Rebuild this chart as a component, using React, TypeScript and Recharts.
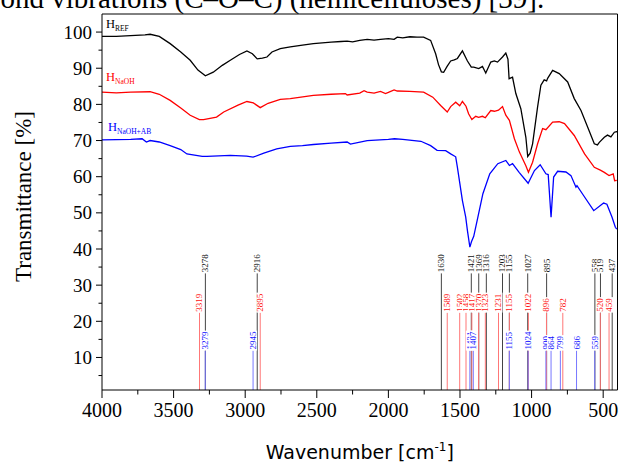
import React from 'react';
import { LineChart, Line, XAxis, YAxis, ReferenceLine, ReferenceDot } from 'recharts';

// H_REF spectrum
const refWn = [4000, 3900, 3800, 3700, 3664, 3600, 3524, 3450, 3384, 3330, 3278, 3223, 3160, 3104, 3040, 2988, 2950, 2916, 2880, 2848, 2813, 2755, 2685, 2600, 2524, 2400, 2330, 2288, 2250, 2200, 2148, 2100, 2055, 2000, 1960, 1938, 1900, 1850, 1800, 1754, 1705, 1670, 1650, 1630, 1614, 1590, 1565, 1540, 1518, 1483, 1448, 1421, 1404, 1369, 1343, 1320, 1285, 1260, 1238, 1203, 1180, 1165, 1157, 1133, 1110, 1075, 1040, 1027, 1010, 993, 958, 935, 912, 895, 888, 853, 807, 748, 702, 655, 608, 562, 540, 527, 492, 470, 446, 422, 400];
const refT = [98.8, 98.8, 99.0, 99.2, 99.4, 98.8, 96.8, 94.5, 92.2, 89.5, 87.9, 88.9, 90.8, 92.2, 93.8, 94.8, 94.0, 92.6, 92.8, 93.1, 94.5, 95.4, 95.9, 96.4, 96.8, 97.2, 97.4, 97.5, 97.3, 97.7, 98.0, 97.8, 98.0, 98.2, 98.0, 98.6, 98.4, 98.7, 98.6, 98.6, 97.7, 94.0, 91.0, 89.0, 88.9, 90.5, 92.0, 92.3, 92.7, 94.8, 92.0, 90.3, 90.3, 89.9, 90.5, 88.7, 91.7, 92.0, 91.7, 93.1, 94.2, 92.5, 87.1, 87.5, 83.0, 78.8, 70.9, 65.6, 66.5, 69.1, 79.3, 85.3, 86.8, 86.5, 87.2, 89.4, 88.5, 86.2, 81.6, 78.3, 73.7, 69.1, 68.8, 69.5, 70.9, 71.5, 71.0, 72.3, 72.5];

// H_NaOH spectrum
const naohWn = [4000, 3900, 3800, 3664, 3600, 3524, 3450, 3384, 3320, 3291, 3200, 3150, 3050, 2988, 2943, 2895, 2840, 2755, 2685, 2524, 2400, 2300, 2288, 2200, 2170, 2148, 2100, 2055, 2020, 2000, 1960, 1938, 1850, 1754, 1690, 1635, 1589, 1565, 1530, 1502, 1483, 1458, 1440, 1417, 1390, 1370, 1343, 1323, 1285, 1260, 1231, 1203, 1180, 1155, 1120, 1085, 1040, 1022, 993, 958, 923, 900, 853, 807, 770, 702, 630, 562, 520, 492, 459, 430, 420, 405];
const naohT = [83.4, 83.2, 83.4, 83.5, 82.8, 81.1, 79.0, 77.0, 75.8, 75.8, 76.5, 77.9, 79.8, 80.8, 80.4, 79.1, 80.3, 81.4, 81.6, 82.5, 82.8, 83.0, 82.6, 83.1, 83.8, 83.4, 83.1, 83.6, 83.0, 83.3, 84.0, 83.7, 83.6, 83.4, 82.0, 79.7, 77.9, 79.4, 80.6, 79.6, 80.8, 79.5, 77.4, 75.8, 76.7, 76.4, 76.7, 76.3, 78.3, 78.1, 78.4, 79.4, 77.0, 75.6, 70.5, 66.8, 63.0, 61.2, 64.0, 69.1, 73.3, 73.0, 75.1, 75.2, 74.7, 71.4, 66.3, 62.6, 61.8, 61.2, 60.3, 60.8, 58.9, 59.0];

// H_NaOH+AB spectrum
const abWn = [4000, 3800, 3720, 3690, 3664, 3600, 3524, 3450, 3407, 3300, 3267, 3104, 2990, 2945, 2870, 2780, 2685, 2600, 2524, 2400, 2288, 2265, 2148, 2000, 1957, 1900, 1773, 1705, 1660, 1600, 1565, 1530, 1518, 1483, 1460, 1448, 1431, 1420, 1404, 1375, 1340, 1292, 1236, 1180, 1155, 1133, 1087, 1024, 980, 940, 900, 884, 864, 846, 818, 760, 725, 690, 683, 637, 566, 497, 474, 438, 415, 405];
const abT = [70.2, 70.3, 70.5, 69.6, 70.0, 69.6, 68.6, 67.5, 66.3, 65.6, 65.6, 65.9, 65.7, 65.4, 66.5, 67.7, 68.4, 68.6, 68.9, 69.3, 69.6, 69.0, 70.0, 70.3, 70.5, 70.3, 69.8, 68.6, 67.3, 67.2, 66.3, 65.5, 62.6, 53.4, 48.8, 45.1, 40.5, 42.0, 43.5, 48.8, 55.3, 60.8, 63.6, 64.5, 63.1, 63.6, 61.2, 58.2, 61.7, 63.3, 60.8, 60.6, 48.8, 59.9, 61.5, 61.3, 60.3, 57.1, 57.5, 54.8, 50.6, 52.7, 52.4, 48.8, 46.0, 45.5];

const refPeaks = [3278, 2916, 1630, 1421, 1369, 1316, 1203, 1155, 1027, 895, 558, 519, 437];
const naohPeaks = [3319, 2895, 1589, 1502, 1458, 1417, 1370, 1323, 1231, 1155, 1022, 896, 782, 520, 459];
const abPeaks = [3279, 2945, 1431, 1407, 1155, 1024, 900, 864, 799, 686, 559];

const xTicks = [4000, 3750, 3500, 3250, 3000, 2750, 2500, 2250, 2000, 1750, 1500, 1250, 1000, 750, 500];
const yTicks = [5, 10, 15, 20, 25, 30, 35, 40, 45, 50, 55, 60, 65, 70, 75, 80, 85, 90, 95, 100];

const toData = (wn: number[], t: number[]) => wn.map((w, i) => ({ wn: w, t: t[i] }));
const refData = toData(refWn, refT);
const naohData = toData(naohWn, naohT);
const abData = toData(abWn, abT);

const SERIF = 'Liberation Serif, Times New Roman, serif';

const XTick = (p: any) => {
  const { x, y, payload } = p;
  const major = payload.value % 500 === 0;
  return (
    <g>
      <line x1={x} x2={x} y1={y} y2={y + (major ? 8 : 4.5)} stroke="#000" strokeWidth={1} />
      {major && (
        <text x={x} y={y + 27} textAnchor="middle" fontFamily={SERIF} fontSize={20} fill="#000">
          {payload.value}
        </text>
      )}
    </g>
  );
};

const YTick = (p: any) => {
  const { x, y, payload } = p;
  const major = payload.value % 10 === 0;
  return (
    <g>
      <line x1={x} x2={x - (major ? 6 : 3.5)} y1={y} y2={y} stroke="#000" strokeWidth={1} />
      {major && (
        <text x={x - 10} y={y} dy="0.35em" textAnchor="end" fontFamily={SERIF} fontSize={19} fill="#000">
          {payload.value}
        </text>
      )}
    </g>
  );
};

const peakLabel = (text: string, color: string) => (p: any) => {
  const vb = p.viewBox || {};
  const x = vb.x;
  const yTop = vb.y;
  if (x == null || yTop == null) return null;
  const len = text.length * 4.5 + 2;
  return (
    <g>
      <rect x={x - 4} y={yTop - len} width={8} height={len} fill="#fff" />
      <text
        transform={`translate(${x},${yTop - 1}) rotate(-90)`}
        textAnchor="start"
        dy="0.33em"
        fontFamily={SERIF}
        fontSize={9}
        fill={color}
      >
        {text}
      </text>
    </g>
  );
};

const seriesLabel = (main: string, sub: string, color: string) => (p: any) => {
  const vb = p.viewBox || {};
  return (
    <text x={vb.x} y={vb.y} fontFamily={SERIF} fill={color}>
      <tspan fontSize={12.5}>{main}</tspan>
      <tspan fontSize={7.5} dy={3}>{sub}</tspan>
    </text>
  );
};

const XTitle = (p: any) => {
  const vb = p.viewBox || { x: 102, y: 390, width: 515, height: 74 };
  return (
    <text x={vb.x + vb.width / 2} y={vb.y + 69} textAnchor="middle" fontFamily="DejaVu Sans, Verdana, sans-serif" fontSize={19} fill="#000">
      Wavenumber [cm<tspan dy={-8} fontSize={12}>-1</tspan><tspan dy={8}>]</tspan>
    </text>
  );
};

const YTitle = (p: any) => {
  const vb = p.viewBox || { x: 0, y: 14, width: 102, height: 376 };
  const cx = vb.x + 30.7;
  const cy = vb.y + vb.height / 2 - 5.5;
  return (
    <text transform={`translate(${cx},${cy}) rotate(-90)`} textAnchor="middle" fontFamily={SERIF} fontSize={23} fill="#000">
      Transmittance [%]
    </text>
  );
};

const PEAK_TOP_REF = 33.3;
const PEAK_TOP_NAOH = 22.4;
const PEAK_TOP_AB = 11.9;
const Y_MIN = 1;
const Y_MAX = 105;

export default function App() {
  return (
    <div style={{ position: 'absolute', left: 0, top: 0, width: 619, height: 464, overflow: 'hidden', background: '#fff' }}>
      <LineChart width={619} height={464} margin={{ top: 14, right: 1.5, bottom: 0, left: 0 }}>
        <XAxis
          dataKey="wn"
          type="number"
          domain={[400, 4000]}
          reversed
          allowDataOverflow
          ticks={xTicks}
          interval={0}
          tickLine={false}
          tickSize={0}
          tickMargin={0}
          tick={<XTick />}
          axisLine={{ stroke: '#000', strokeWidth: 1 }}
          height={74}
          label={{ content: XTitle }}
        />
        <YAxis
          type="number"
          domain={[Y_MIN, Y_MAX]}
          allowDataOverflow
          ticks={yTicks}
          interval={0}
          tickLine={false}
          tickSize={0}
          tickMargin={0}
          tick={<YTick />}
          axisLine={{ stroke: '#000', strokeWidth: 1 }}
          width={102}
          label={{ content: YTitle }}
        />
        <ReferenceLine y={Y_MAX} stroke="#000" strokeWidth={1} />
        <ReferenceLine x={400} stroke="#000" strokeWidth={1} />

        {refPeaks.map((w) => (
          <ReferenceLine
            key={'r' + w}
            segment={[{ x: w, y: Y_MIN }, { x: w, y: PEAK_TOP_REF }]}
            stroke="#444"
            strokeWidth={1}
            label={{ content: peakLabel(String(w), '#111') }}
          />
        ))}
        {naohPeaks.map((w) => (
          <ReferenceLine
            key={'n' + w}
            segment={[{ x: w, y: Y_MIN }, { x: w, y: PEAK_TOP_NAOH }]}
            stroke="#ff7777"
            strokeWidth={1}
            label={{ content: peakLabel(String(w), '#ff1111') }}
          />
        ))}
        {abPeaks.map((w) => (
          <ReferenceLine
            key={'a' + w}
            segment={[{ x: w, y: Y_MIN }, { x: w, y: PEAK_TOP_AB }]}
            stroke="#7777ff"
            strokeWidth={1}
            label={{ content: peakLabel(String(w), '#1111ff') }}
          />
        ))}

        <Line data={refData} dataKey="t" type="linear" dot={false} stroke="#000" strokeWidth={1.3} isAnimationActive={false} />
        <Line data={naohData} dataKey="t" type="linear" dot={false} stroke="#ff0000" strokeWidth={1.3} isAnimationActive={false} />
        <Line data={abData} dataKey="t" type="linear" dot={false} stroke="#0000ff" strokeWidth={1.3} isAnimationActive={false} />

        <ReferenceDot x={3972} y={101.05} r={0} fill="none" stroke="none" label={{ content: seriesLabel('H', 'REF', '#000') }} />
        <ReferenceDot x={3972} y={86.4} r={0} fill="none" stroke="none" label={{ content: seriesLabel('H', 'NaOH', '#ff0000') }} />
        <ReferenceDot x={3958} y={72.6} r={0} fill="none" stroke="none" label={{ content: seriesLabel('H', 'NaOH+AB', '#0000ff') }} />
      </LineChart>
      <svg style={{ position: 'absolute', left: 0, top: 0 }} width={619} height={14}>
        <text x={-14} y={8} fontFamily={SERIF} fontSize={29} fill="#000">
          bond vibrations (C–O–C) (hemicelluloses) [39].
        </text>
      </svg>
    </div>
  );
}
